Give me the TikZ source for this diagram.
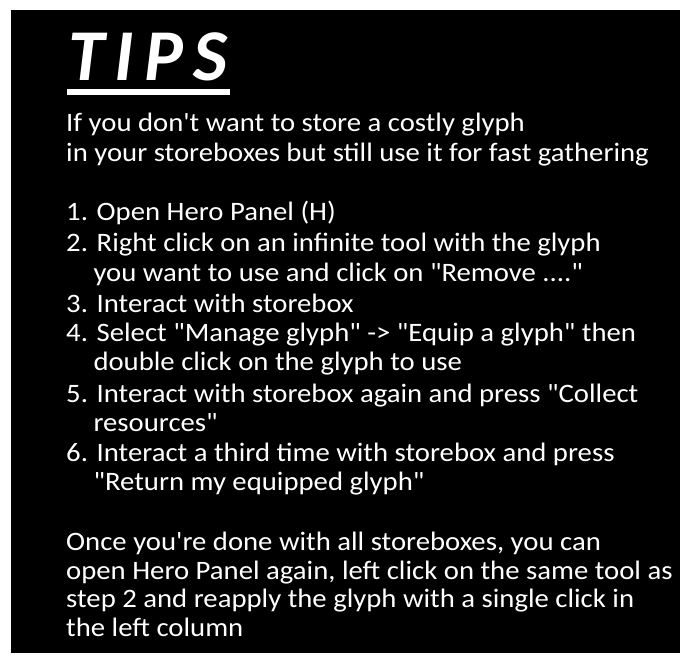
\documentclass[tikz,border=0pt]{standalone}
\usepackage{fontspec}
\newfontfamily\bodyfont[FakeStretch=1.08]{Carlito}
\newfontfamily\titlefont[LetterSpace=14]{Carlito}
\begin{document}
\begin{tikzpicture}[x=1pt,y=-1pt,
  tline/.style={anchor=base west,inner sep=0pt,text=white,font=\bodyfont\fontsize{26.6}{30}\selectfont}]
\useasboundingbox (0,0) rectangle (690,664);
\fill[white] (0,0) rectangle (690,664);
\fill[black] (11,10) rectangle (680,653);
\node[anchor=base west,inner sep=0pt,text=white,font=\titlefont\fontsize{73}{80}\selectfont\bfseries\itshape] (title) at (68,80) {TIPS};
\fill[white] (67,89) rectangle (230,95);
\node[tline] (l1) at (66,131.7) {If you don't want to store a costly glyph};
\node[tline] (l2) at (66,161.7) {in your storeboxes but still use it for fast gathering};
\node[tline] (s1) at (66,220.5) {1. Open Hero Panel (H)};
\node[tline] (s2) at (66,251.7) {2. Right click on an infinite tool with the glyph};
\node[tline] (s2b) at (93.3,281.7) {you want to use and click on "Remove ...."};
\node[tline] (s3) at (66,312) {3. Interact with storebox};
\node[tline] (s4) at (66,341.7) {4. Select "Manage glyph" -> "Equip a glyph" then};
\node[tline] (s4b) at (93.3,370.9) {double click on the glyph to use};
\node[tline] (s5) at (66,402) {5. Interact with storebox again and press "Collect};
\node[tline] (s5b) at (93.3,431.7) {resources"};
\node[tline] (s6) at (66,461.7) {6. Interact a third time with storebox and press};
\node[tline] (s6b) at (93.3,490.9) {"Return my equipped glyph"};
\node[tline] (e1) at (66,550) {Once you're done with all storeboxes, you can};
\node[tline] (e2) at (66,579) {open Hero Panel again, left click on the same tool as};
\node[tline] (e3) at (66,607.7) {step 2 and reapply the glyph with a single click in};
\node[tline] (e4) at (66,636.7) {the left column};
\end{tikzpicture}
\end{document}
